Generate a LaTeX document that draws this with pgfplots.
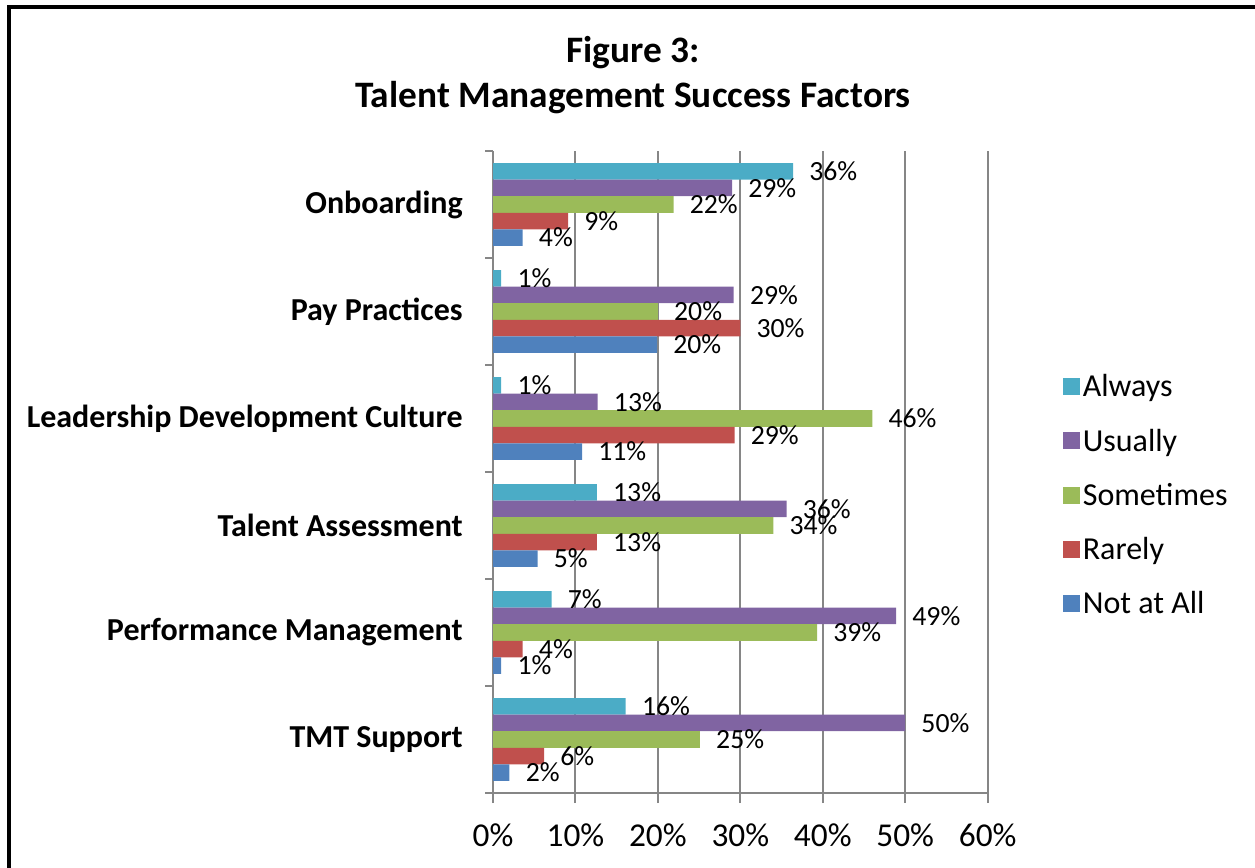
\documentclass[border=0pt]{standalone}
\usepackage{fontspec}
\setmainfont{Carlito}
\usepackage{pgfplots}
\pgfplotsset{compat=1.18}

\definecolor{cAlways}{HTML}{4BACC6}
\definecolor{cUsually}{HTML}{8064A2}
\definecolor{cSometimes}{HTML}{9BBB59}
\definecolor{cRarely}{HTML}{C0504D}
\definecolor{cNotAll}{HTML}{4F81BD}
\definecolor{axisGray}{HTML}{868686}

% 1 px of the reference = 0.75pt
\begin{document}
\begin{tikzpicture}
\useasboundingbox (0,0) rectangle (941.25pt,650.25pt);
% frame (cut off at right and bottom)
\draw[line width=2.6pt] (6.75pt,-5pt) -- (6.75pt,645pt) -- (950pt,645pt);

\node[font=\fontsize{28}{33.75}\selectfont\bfseries, align=center]
  at (474.75pt,594pt) {Figure 3:\\Talent Management Success Factors};

\begin{axis}[
  at={(369.75pt,55.5pt)}, anchor=south west,
  scale only axis, width=371pt, height=481.5pt,
  xbar, bar width=12.4pt,
  xmin=0, xmax=60, ymin=-0.5, ymax=5.5,
  axis lines*=left,
  axis line style={-, draw=axisGray, line width=1.5pt},
  xmajorgrids, grid style={draw=axisGray, line width=1.5pt},
  xtick={0,10,...,60},
  xticklabel={\pgfmathprintnumber{\tick}\%},
  ytick={0,...,5},
  yticklabels={TMT Support, Performance Management, Talent Assessment,
               Leadership Development Culture, Pay Practices, Onboarding},
  minor ytick={-0.5,0.5,...,5.5},
  tick align=outside,
  major tick length=7.5pt, minor tick length=6pt,
  major y tick style={draw=none},
  every tick/.style={draw=axisGray, line width=1.5pt},
  minor tick style={draw=axisGray, line width=1.5pt},
  /pgf/number format/assume math mode=true,
  xticklabel style={font=\fontsize{25}{30}\selectfont, inner sep=0pt, yshift=-15pt},
  yticklabel style={font=\fontsize{24}{28}\selectfont\bfseries, inner sep=0pt, xshift=-15pt},
  point meta=x,
  nodes near coords={\pgfmathprintnumber[fixed,precision=0]{\pgfplotspointmeta}\%},
  every node near coord/.append style={anchor=west, inner sep=0pt, xshift=12pt,
                                font=\fontsize{20.8}{25}\selectfont, text=black},
  legend style={at={(1.144,0.464)}, anchor=west, draw=none, fill=none,
                font=\fontsize{24}{29}\selectfont, row sep=18.5pt},
  legend cell align=left,
  legend image code/.code={\fill[#1] (0pt,-6.4pt) rectangle (12.75pt,6.4pt);},
]
\addplot[fill=cAlways, draw=none, bar shift=24.8pt] coordinates {
  (16.1,0) (7.1,1) (12.6,2) (1.0,3) (1.0,4) (36.4,5)};
\addplot[fill=cUsually, draw=none, bar shift=12.4pt] coordinates {
  (50.0,0) (48.9,1) (35.6,2) (12.7,3) (29.2,4) (29.0,5)};
\addplot[fill=cSometimes, draw=none, bar shift=0pt] coordinates {
  (25.1,0) (39.3,1) (34.0,2) (46.0,3) (20.0,4) (21.9,5)};
\addplot[fill=cRarely, draw=none, bar shift=-12.4pt] coordinates {
  (6.2,0) (3.6,1) (12.6,2) (29.3,3) (30.0,4) (9.1,5)};
\addplot[fill=cNotAll, draw=none, bar shift=-24.8pt] coordinates {
  (2.0,0) (1.0,1) (5.4,2) (10.8,3) (19.9,4) (3.6,5)};
\legend{Always, Usually, Sometimes, Rarely, Not at All}
\end{axis}
\end{tikzpicture}
\end{document}
